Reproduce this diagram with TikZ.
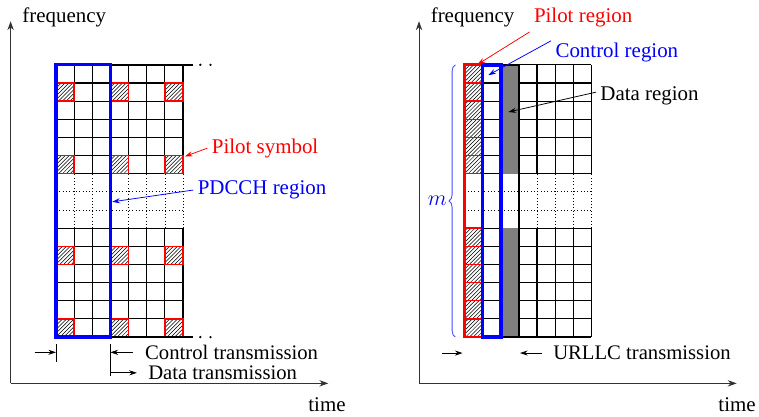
\documentclass[tikz,border=0pt]{standalone}
\usepackage{fontspec}
\setmainfont{Liberation Serif}
\usetikzlibrary{arrows.meta, positioning, patterns, decorations.pathreplacing}

\begin{document}
\begin{tikzpicture}[x=0.5cm, y=0.5cm,
				font=\fontsize{16.4}{19}\selectfont,
				% Styles des grilles
				grille/.style={draw=black, line width=0.9pt, step=0.5cm},
				grillePointillee/.style={draw=black, dotted, line width=0.6pt, step=0.5cm},
				pilote/.style={draw=red, line width=1.1pt, pattern=north east lines},
				bordEpais/.style={draw=black, line width=1.9pt},
				suite/.style={line width=2pt, line cap=round, dash pattern=on 0pt off 8pt},
				transmission/.style={anchor=west, inner sep=1pt, font=\fontsize{16.2}{17}\selectfont},
				% Styles des fleches
				axe/.style={-{Stealth[length=7pt, width=5pt]}, line width=0.8pt, black!80},
				flecheRouge/.style={-{Stealth[length=6pt, width=4pt]}, red, line width=0.6pt},
				flecheBleue/.style={-{Stealth[length=6pt, width=4pt]}, blue, line width=0.6pt},
				flecheNoire/.style={-{Stealth[length=6pt, width=4pt]}, black, line width=0.6pt},
				repere/.style={-{Stealth[length=6pt, width=4pt]}, black, line width=0.6pt},
				]
				
				\useasboundingbox (-3.085,-4.35) rectangle (38.73,18.57);
				
				
				% Partie de gauche : eMBB
				\coordinate (origineG) at (-2.5,-2.55);
				\coordinate (freqG) at (-2.5,17.4);
				\coordinate (tempsG) at (15,-2.55);
				\draw[axe] (origineG) -- (freqG);
				\draw[axe] (origineG) -- (tempsG);
				\node[anchor=west] (labelFreqG) at (-2.1,17.63) {frequency};
				\node (labelTempsG) at (14.93,-3.7) {time};
				
				
				\draw[grille] (0,0) grid (7,6);
				\draw[grille] (0,9) grid (7,15);
				\draw[grillePointillee] (0,6) grid (7,9);
				\foreach \x in {0,3,6}
					\foreach \y in {0,4,9,13}
						\draw[pilote] (\x,\y) rectangle ++(1,1);
				
				\draw[bordEpais] (3,15) -- (7.55,15);
				\draw[bordEpais] (3,0) -- (7.55,0);
				\draw[suite] (7.95,15) -- (8.6,15);
				\draw[suite] (7.95,0) -- (8.6,0);
				\draw[blue, line width=2.6pt] (0,0) rectangle (3,15);
				
				
				\node[red] (symbolePilote) at (11.52,10.41) {Pilot symbol};
				\coordinate (pointePilote) at (7.1,9.95);
				\draw[flecheRouge] (symbolePilote.west) -- (pointePilote);
				
				\node[blue] (regionPdcch) at (11.35,8.1) {PDCCH region};
				\coordinate (pointePdcch) at (3.1,7.45);
				\draw[flecheBleue] (regionPdcch.west) -- (pointePdcch);
				
				
				\coordinate (barreA1) at (0,-0.4);
				\coordinate (barreA2) at (0,-1.36);
				\coordinate (barreB1) at (3,-0.4);
				\coordinate (barreB2) at (3,-2.12);
				\draw[line width=0.6pt] (barreA1) -- (barreA2);
				\draw[line width=0.6pt] (barreB1) -- (barreB2);
				\coordinate (departA) at (-1.18,-0.84);
				\coordinate (arriveeA) at (0,-0.84);
				\draw[repere] (departA) -- (arriveeA);
				\coordinate (departB) at (4.24,-0.84);
				\coordinate (arriveeB) at (3,-0.84);
				\draw[repere] (departB) -- (arriveeB);
				\coordinate (departC) at (3,-1.97);
				\coordinate (arriveeC) at (4.46,-1.97);
				\draw[repere] (departC) -- (arriveeC);
				\node[transmission] (transControle) at (4.83,-0.84) {Control transmission};
				\node[transmission] (transDonnees) at (5.0,-1.97) {Data transmission};
				
				
				% Partie de droite : URLLC
				\begin{scope}[shift={(22.5,0)}]
					\coordinate (origineD) at (-2.5,-2.55);
					\coordinate (freqD) at (-2.5,17.4);
					\coordinate (tempsD) at (15,-2.55);
					\draw[axe] (origineD) -- (freqD);
					\draw[axe] (origineD) -- (tempsD);
					\node[anchor=west] (labelFreqD) at (-2.1,17.63) {frequency};
					\node (labelTempsD) at (15.02,-3.7) {time};
					
					
					\draw[grille] (0,0) grid (7,6);
					\draw[grille] (0,9) grid (7,15);
					\draw[grillePointillee] (0,6) grid (7,9);
					\fill[gray] (2,0) rectangle (3,6);
					\fill[gray] (2,9) rectangle (3,15);
					\foreach \y in {0,...,5,9,10,...,14}
						\draw[pilote] (0,\y) rectangle ++(1,1);
					
					\draw[bordEpais] (0,0) rectangle (3,15);
					\draw[red, line width=2.2pt] (0,0) rectangle (1,15);
					\draw[blue, line width=3pt] (1,0) rectangle (2,15);
					
					\draw[blue!70, line width=0.7pt, decorate, decoration={brace, amplitude=5pt}]
						(-0.5,0) -- (-0.5,15) node[midway, left=3pt, blue] (nbM) {$m$};
					
					
					\node[red] (regionPilote) at (6.54,17.58) {Pilot region};
					\coordinate (pointeRegPilote) at (0.72,15.02);
					\draw[flecheRouge] (regionPilote.south west) -- (pointeRegPilote);
					
					\node[blue] (regionControle) at (8.4,15.69) {Control region};
					\coordinate (pointeRegControle) at (1.32,14.43);
					\draw[flecheBleue] ([yshift=-2pt]regionControle.north west) -- (pointeRegControle);
					
					\node (regionDonnees) at (10.2,13.28) {Data region};
					\coordinate (pointeRegDonnees) at (2.42,12.4);
					\draw[flecheNoire] ([yshift=3pt]regionDonnees.west) -- (pointeRegDonnees);
					
					
					\coordinate (departD) at (-1.21,-0.88);
					\coordinate (arriveeD) at (-0.1,-0.88);
					\draw[repere] (departD) -- (arriveeD);
					\coordinate (departE) at (4.29,-0.88);
					\coordinate (arriveeE) at (3.06,-0.88);
					\draw[repere] (departE) -- (arriveeE);
					\node[transmission] (transUrllc) at (4.81,-0.88) {URLLC transmission};
				\end{scope}
			\end{tikzpicture}
\end{document}
